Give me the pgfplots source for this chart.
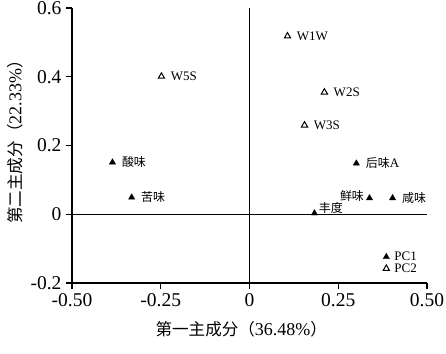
\documentclass[border=0pt]{standalone}
\usepackage{pgfplots}
\pgfplotsset{compat=1.18}
\usepackage{fontspec}
\setmainfont{Liberation Serif}
\newfontfamily\cjk{Noto Sans CJK SC}[Scale=0.92]
\begin{document}
\begin{tikzpicture}
\begin{axis}[name=ax,
  scale only axis, width=355pt, height=275pt,
  xmin=-0.5, xmax=0.5, ymin=-0.2, ymax=0.6,
  axis x line=bottom, axis y line=left,
  axis line style={-, line width=1.2pt, black},
  tick align=outside, major tick length=6pt, tick style={line width=1.2pt, black},
  xtick={-0.5,-0.25,0,0.25,0.5},
  xticklabels={-0.50,-0.25,0,0.25,0.50},
  ytick={-0.2,0,0.2,0.4,0.6},
  yticklabels={-0.2,0,0.2,0.4,0.6},
  ticklabel style={font=\fontsize{19.5}{20}\selectfont},
  xticklabel style={yshift=-1pt},
  yticklabel style={xshift=-1pt},
  xlabel={{\cjk 第一主成分（}36.48\%{\cjk ）}},
  ylabel={{\cjk 第二主成分（}22.33\%{\cjk ）}},
  every axis x label/.style={at={(axis description cs:0.477,-0.167)}, anchor=center, font=\fontsize{18}{18}\selectfont},
  every axis y label/.style={at={(axis description cs:-0.16,0.527)}, rotate=90, anchor=center, font=\fontsize{18}{18}\selectfont},
  clip=false,
  legend style={draw=none, fill=none, at={(axis cs:0.376,-0.103)}, anchor=north west,
     font=\fontsize{13}{13}\selectfont, row sep=-2.5pt, inner sep=0pt,
     /tikz/every odd column/.append style={column sep=3pt}},
  legend cell align=left,
  nodes near coords, point meta=explicit symbolic,
  every node near coord/.style={font=\fontsize{13}{13}\selectfont, anchor=west, black},
]
\draw[line width=1.2pt, black] (axis cs:0,-0.2) -- (axis cs:0,0.6);
\draw[line width=1.2pt, black] (axis cs:-0.5,0) -- (axis cs:0.5,0);
\addplot[only marks, mark=triangle*, mark size=3.6pt, black, mark options={fill=black}, nodes near coords style={xshift=6pt}]
  table[meta=label] {
x y label
-0.386 0.151 {\cjk 酸味}
-0.332 0.049 {\cjk 苦味}
0.301 0.148 {\cjk 后味}A
0.403 0.047 {\cjk 咸味}
};
\addlegendentry{PC1}
\addplot[only marks, mark=triangle, mark size=3.6pt, black, mark options={line width=1pt}, nodes near coords style={xshift=5.5pt}]
  table[meta=label] {
x y label
0.107 0.518 W1W
-0.248 0.401 W5S
0.211 0.355 W2S
0.155 0.259 W3S
};
\addlegendentry{PC2}
\addplot[only marks, mark=triangle*, mark size=3.6pt, black, forget plot, nodes near coords style={anchor=east, xshift=-2pt, yshift=2pt}]
  table[meta=label] {
x y label
0.338 0.047 {\cjk 鲜味}
};
\addplot[only marks, mark=triangle*, mark size=3.6pt, black, forget plot, nodes near coords style={anchor=west, xshift=1pt, yshift=5pt}]
  table[meta=label] {
x y label
0.183 0.003 {\cjk 丰度}
};
\end{axis}
\pgfresetboundingbox
\path[use as bounding box] ([xshift=-72pt,yshift=-70pt]ax.south west) rectangle ([xshift=19pt,yshift=8pt]ax.north east);
\end{tikzpicture}
\end{document}
